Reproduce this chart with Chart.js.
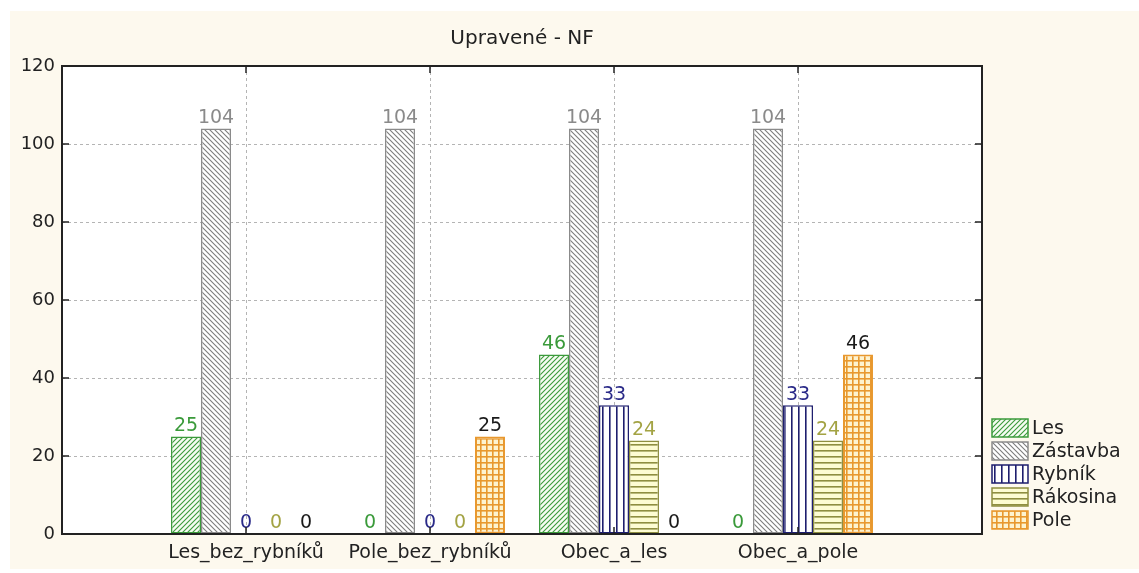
<!DOCTYPE html>
<html><head><meta charset="utf-8">
<script src="https://cdn.jsdelivr.net/npm/chart.js@4.4.0/dist/chart.umd.min.js"></script>
<style>html,body{margin:0;padding:0;background:#fff}#wrap{width:1139px;height:573px;position:relative}</style>
</head><body><div id="wrap"><canvas id="c"></canvas></div>
<script>
// ---- data ----
const title = 'Upravené - NF';
const categories = ['Les_bez_rybníků', 'Pole_bez_rybníků', 'Obec_a_les', 'Obec_a_pole'];
const seriesNames = ['Les', 'Zástavba', 'Rybník', 'Rákosina', 'Pole'];
const les = [25, 0, 46, 0];
const zastavba = [104, 104, 104, 104];
const rybnik = [0, 0, 33, 33];
const rakosina = [0, 0, 24, 24];
const pole = [0, 25, 0, 46];
const yTicks = [0, 20, 40, 60, 80, 100, 120];

const FONT = '"DejaVu Sans", Verdana, sans-serif';
const canvas = document.getElementById('c');
const ctx = canvas.getContext('2d');

function tile(w, h, bg, draw) {
  const c = document.createElement('canvas');
  c.width = w; c.height = h;
  const g = c.getContext('2d');
  g.fillStyle = bg; g.fillRect(0, 0, w, h);
  draw(g, w, h);
  return ctx.createPattern(c, 'repeat');
}
function diag(bg, fg, s, dir, lw) {
  return tile(s, s, bg, (g) => {
    g.strokeStyle = fg; g.lineWidth = lw; g.beginPath();
    if (dir === '/') {
      g.moveTo(-1, s + 1); g.lineTo(s + 1, -1);
      g.moveTo(-1, 1); g.lineTo(1, -1);
      g.moveTo(s - 1, s + 1); g.lineTo(s + 1, s - 1);
    } else {
      g.moveTo(-1, -1); g.lineTo(s + 1, s + 1);
      g.moveTo(s - 1, -1); g.lineTo(s + 1, 1);
      g.moveTo(-1, s - 1); g.lineTo(1, s + 1);
    }
    g.stroke();
  });
}
const patLes = diag('#f6fcf2', '#3b9a3b', 5, '/', 1.1);
const patZas = diag('#ffffff', '#7d7d7d', 5, '\\', 1.1);
const patRyb = tile(7, 4, '#ffffff', (g) => { g.fillStyle = '#1e1e6e'; g.fillRect(0, 0, 1.6, 4); });
const patRak = tile(4, 6, '#fdfcd2', (g) => { g.fillStyle = '#8e8e40'; g.fillRect(0, 0, 4, 1.6); });
const patPol = tile(6, 6, '#fdf3cf', (g) => { g.fillStyle = '#e8982e'; g.fillRect(0, 0, 6, 1.6); g.fillRect(0, 0, 1.6, 6); });

const styles = [
  { bg: patLes, border: '#3b9a3b', label: '#3a9a3a' },
  { bg: patZas, border: '#8a8a8a', label: '#8a8a8a' },
  { bg: patRyb, border: '#1e1e6e', label: '#2a2a88' },
  { bg: patRak, border: '#8e8e40', label: '#a3a344' },
  { bg: patPol, border: '#e8982e', label: '#1a1a1a' }
];
const seriesValues = [les, zastavba, rybnik, rakosina, pole];
const xLabels = [''].concat(categories, ['']);

const datasets = seriesNames.map((name, i) => ({
  label: name,
  data: [null].concat(seriesValues[i], [null]),
  backgroundColor: styles[i].bg,
  borderColor: styles[i].border,
  borderWidth: i === 4 ? 2 : 1.5,
  borderSkipped: false,
  valueColor: styles[i].label
}));

const bgPlugin = {
  id: 'bg',
  beforeDraw(chart) {
    const c = chart.ctx, a = chart.chartArea;
    c.save();
    c.fillStyle = '#ffffff'; c.fillRect(0, 0, chart.width, chart.height);
    c.fillStyle = '#fdf9ee'; c.fillRect(10, 11, chart.width - 10, chart.height - 15);
    c.fillStyle = '#ffffff'; c.fillRect(a.left, a.top, a.right - a.left, a.bottom - a.top);
    c.restore();
  }
};

const overlay = {
  id: 'overlay',
  afterDatasetsDraw(chart) {
    const c = chart.ctx, a = chart.chartArea;
    const xs = chart.scales.x, ys = chart.scales.y;
    c.save();
    // value labels
    c.font = '19px ' + FONT;
    c.textAlign = 'center';
    c.textBaseline = 'bottom';
    chart.data.datasets.forEach((ds, i) => {
      const meta = chart.getDatasetMeta(i);
      meta.data.forEach((el, j) => {
        const v = ds.data[j];
        if (v === null || v === undefined) return;
        c.fillStyle = ds.valueColor;
        c.fillText(String(v), el.x, el.y - 1);
      });
    });
    // frame
    c.strokeStyle = '#222';
    c.lineWidth = 2;
    c.strokeRect(a.left, a.top, a.right - a.left, a.bottom - a.top);
    // inward ticks
    c.lineWidth = 1.5;
    c.beginPath();
    yTicks.forEach(t => {
      if (t === 0 || t === 120) return;
      const y = ys.getPixelForValue(t);
      c.moveTo(a.left, y); c.lineTo(a.left + 7, y);
      c.moveTo(a.right, y); c.lineTo(a.right - 7, y);
    });
    categories.forEach((cat, k) => {
      const x = xs.getPixelForValue(k + 1);
      c.moveTo(x, a.top); c.lineTo(x, a.top + 7);
      c.moveTo(x, a.bottom); c.lineTo(x, a.bottom - 7);
    });
    c.stroke();
    c.restore();
  },
  afterDraw(chart) {
    const c = chart.ctx;
    c.save();
    c.font = '19px ' + FONT;
    c.textAlign = 'left';
    c.textBaseline = 'middle';
    chart.data.datasets.forEach((ds, i) => {
      const y = 419 + i * 23;
      c.fillStyle = ds.backgroundColor;
      c.fillRect(992, y, 36, 18);
      c.strokeStyle = ds.borderColor;
      c.lineWidth = 1.5;
      c.strokeRect(992, y, 36, 18);
      c.fillStyle = '#222';
      c.fillText(ds.label, 1032, y + 10);
    });
    c.restore();
  }
};

new Chart(canvas, {
  type: 'bar',
  data: { labels: xLabels, datasets },
  options: {
    responsive: true,
    maintainAspectRatio: false,
    animation: false,
    events: [],
    layout: { padding: { left: 10, right: 157, top: 0, bottom: 0 } },
    datasets: { bar: { categoryPercentage: 0.815, barPercentage: 1.0 } },
    plugins: {
      legend: { display: false },
      tooltip: { enabled: false },
      title: {
        display: true, text: title, fullSize: false,
        color: '#222', font: { family: FONT, size: 20, weight: 'normal' },
        padding: { top: 27, bottom: 15 }
      }
    },
    scales: {
      x: {
        type: 'category',
        offset: false,
        grid: { offset: false, drawTicks: false, color: '#b4b4b4', lineWidth: 1 },
        border: { display: false, dash: [3, 3] },
        ticks: { autoSkip: false, maxRotation: 0, minRotation: 0, padding: 8, color: '#222', font: { family: FONT, size: 19 } },
        afterFit(s) { s.height = 39; }
      },
      y: {
        min: 0, max: 120,
        afterBuildTicks(s) { s.ticks = yTicks.map(v => ({ value: v })); },
        grid: { drawTicks: false, color: '#b4b4b4', lineWidth: 1 },
        border: { display: false, dash: [3, 3] },
        ticks: { padding: 7, color: '#222', font: { family: FONT, size: 18 } },
        afterFit(s) { s.width = 52; }
      }
    }
  },
  plugins: [bgPlugin, overlay]
});
</script>
</body></html>
